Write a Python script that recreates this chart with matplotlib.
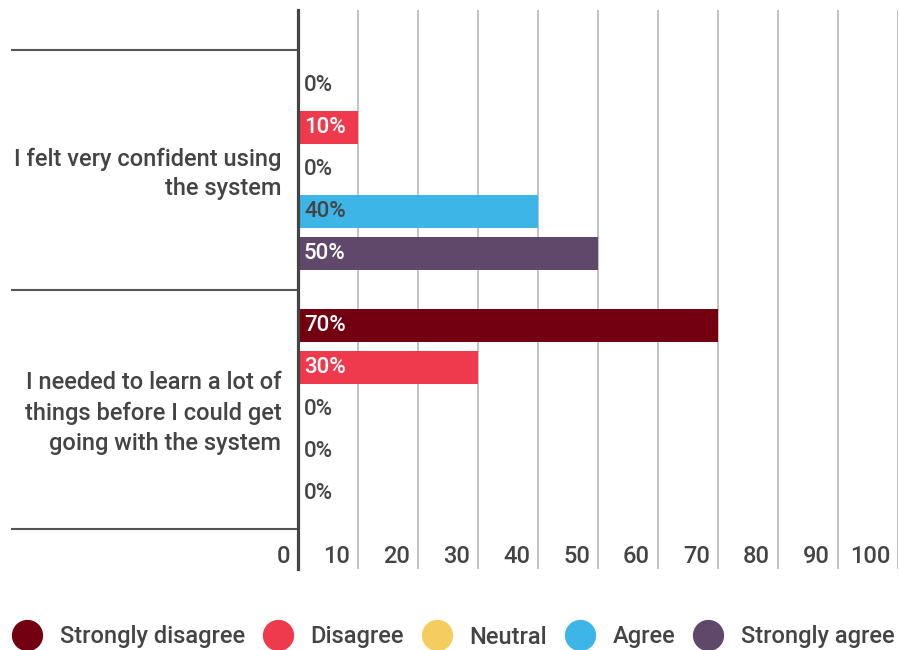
import matplotlib
matplotlib.use("Agg")
import matplotlib.pyplot as plt
from matplotlib.lines import Line2D
import matplotlib.transforms as mtransforms

plt.rcParams['font.family'] = ['Roboto', 'DejaVu Sans']
plt.rcParams['font.weight'] = 'medium'

questions = ["I felt very confident using\nthe system",
             "I needed to learn a lot of\nthings before I could get\ngoing with the system"]
responses = ["Strongly disagree", "Disagree", "Neutral", "Agree", "Strongly agree"]
colors = ["#730010", "#ef3a4e", "#f5cd5e", "#3db5e6", "#5f4869"]
label_colors = ["white", "white", "#444444", "#444444", "white"]

# percent of answers per response, one list per question
confident = [0, 10, 0, 40, 50]
learn_first = [70, 30, 0, 0, 0]
values = [confident, learn_first]

xticks = [0, 10, 20, 30, 40, 50, 60, 70, 80, 90, 100]

text_col = "#444444"
row_step = 0.1757
bar_h = 0.138

fig = plt.figure(figsize=(8.99, 6.5), dpi=100)
ax = fig.add_axes([298 / 899, 1 - 569 / 650, 600 / 899, 559 / 650])

for qi, vals in enumerate(values):
    for ri, v in enumerate(vals):
        y = qi + (ri - 2) * row_step
        if v > 0:
            ax.barh(y, v, height=bar_h, color=colors[ri], zorder=3)
            tc = label_colors[ri]
        else:
            tc = text_col
        ax.text(1.0, y, f"{v}%", ha="left", va="center", fontsize=16,
                color=tc, zorder=4)

ax.set_xlim(0, 100)
ax.set_ylim(1.669, -0.669)

# vertical grid
ax.set_xticks(xticks)
ax.set_xticklabels([str(t) for t in xticks])
ax.grid(axis="x", color="#b8b8b8", linewidth=1.2, zorder=1)
ax.tick_params(axis="x", length=0, pad=-17, labelsize=17, labelcolor=text_col)
shift = mtransforms.ScaledTranslation(-8 / 100, 0, fig.dpi_scale_trans)
for lab in ax.get_xticklabels():
    lab.set_horizontalalignment("right")
    lab.set_verticalalignment("top")
    lab.set_transform(lab.get_transform() + shift)

ax.set_yticks([0, 1])
ax.set_yticklabels(questions, fontsize=17, color=text_col, linespacing=1.38,
                   multialignment="right")
ax.tick_params(axis="y", length=0, pad=12)
lift = mtransforms.ScaledTranslation(0, 2 / 100, fig.dpi_scale_trans)
for lab in ax.get_yticklabels():
    lab.set_transform(lab.get_transform() + lift)

for s in ["top", "right", "bottom"]:
    ax.spines[s].set_visible(False)
ax.spines["left"].set_color("#444444")
ax.spines["left"].set_linewidth(2.3)
ax.spines["left"].set_zorder(5)

# separators between question bands, left of the axis
sep = mtransforms.blended_transform_factory(ax.transAxes, ax.transData)
for yb in [-0.5, 0.5, 1.5]:
    ax.plot([-286 / 600, 0], [yb, yb], color="#555555", linewidth=1.5,
            transform=sep, clip_on=False, zorder=2)

handles = [Line2D([], [], marker="o", linestyle="none", markersize=21.5,
                  markerfacecolor=c, markeredgecolor=c) for c in colors]
fig.legend(handles, responses, loc="center left", ncol=5, frameon=False,
           bbox_to_anchor=(12 / 899, 1 - 637 / 650), fontsize=17,
           labelcolor=text_col, handlelength=1.3, handletextpad=0.73,
           columnspacing=0.74, borderpad=0, borderaxespad=0)

fig.savefig("out.png", dpi=100)
